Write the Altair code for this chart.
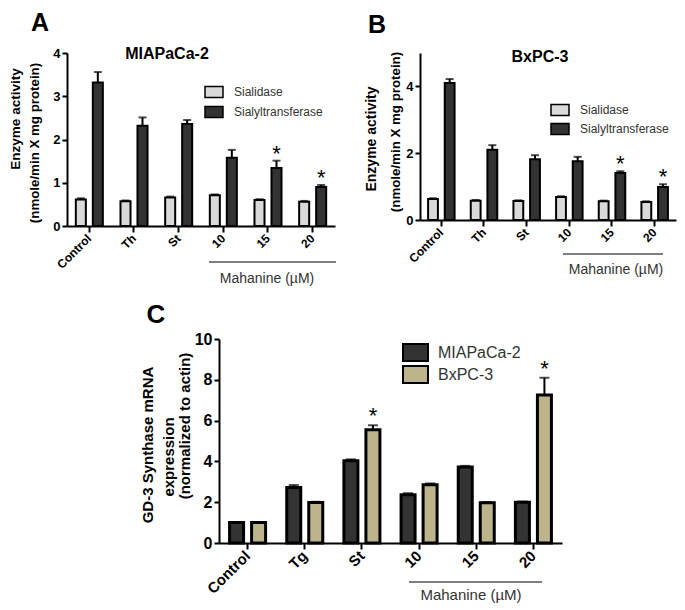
import altair as alt
import pandas as pd

FONT = "Liberation Sans"

# ---------------- data ----------------
cats_ab = ["Control", "Th", "St", "10", "15", "20"]
series_ab = ["Sialidase", "Sialyltransferase"]
colors_ab = ["#d9d9d9", "#333333"]

a_sialidase = [0.61, 0.57, 0.66, 0.71, 0.60, 0.56]
a_sialidase_err = [0.03, 0.02, 0.02, 0.02, 0.02, 0.02]
a_sialyl = [3.32, 2.32, 2.36, 1.58, 1.34, 0.90]
a_sialyl_err = [0.24, 0.19, 0.09, 0.18, 0.17, 0.05]
a_stars = ["", "", "", "", "*", "*"]

b_sialidase = [0.63, 0.58, 0.57, 0.69, 0.56, 0.54]
b_sialidase_err = [0.02, 0.02, 0.02, 0.02, 0.02, 0.02]
b_sialyl = [4.10, 2.10, 1.82, 1.76, 1.41, 0.99]
b_sialyl_err = [0.12, 0.14, 0.12, 0.13, 0.05, 0.08]
b_stars = ["", "", "", "", "*", "*"]

cats_c = ["Control", "Tg", "St", "10", "15", "20"]
series_c = ["MIAPaCa-2", "BxPC-3"]
colors_c = ["#333333", "#bdb48c"]
c_mia = [1.0, 2.72, 4.03, 2.37, 3.72, 2.0]
c_mia_err = [0.02, 0.12, 0.07, 0.07, 0.06, 0.03]
c_bx = [1.0, 1.98, 5.55, 2.85, 1.97, 7.26]
c_bx_err = [0.02, 0.04, 0.22, 0.07, 0.04, 0.84]
c_stars = ["", "", "*", "", "", "*"]


def make_df(cats, series, v1, e1, v2, e2, stars):
    rows = []
    for i, c in enumerate(cats):
        rows.append(dict(cat=c, series=series[0], value=v1[i], top=v1[i] + e1[i], star=""))
        rows.append(dict(cat=c, series=series[1], value=v2[i], top=v2[i] + e2[i], star=stars[i]))
    return pd.DataFrame(rows)


def txt(text, x, y, size, weight="normal", angle=0, color="black"):
    return alt.Chart(pd.DataFrame({"t": [text]})).mark_text(
        fontSize=size, fontWeight=weight, angle=angle, color=color,
        align="center", baseline="middle", font=FONT
    ).encode(text="t:N", x=alt.value(x), y=alt.value(y))


def hline(x1, x2, y):
    return alt.Chart(pd.DataFrame({"a": [0]})).mark_rule(
        color="#555555", strokeWidth=1.5
    ).encode(x=alt.value(x1), x2=alt.value(x2), y=alt.value(y))


def panel(df, cats, series, colors, w, h, ymax, yvals, pi, q, stroke_w, cap,
          tick_fs, xlab_fs, legend, star_dy, extras):
    x = alt.X("cat:N", sort=cats,
              scale=alt.Scale(domain=cats, paddingInner=pi, paddingOuter=pi / 2),
              axis=alt.Axis(title=None, labelAngle=-45, labelAlign="right",
                            labelBaseline="middle", labelFontSize=xlab_fs,
                            labelFontWeight="bold", labelColor="black", labelFont=FONT,
                            tickSize=6, tickWidth=2, tickColor="black",
                            domainColor="black", domainWidth=2, labelPadding=4))
    xo = alt.XOffset("series:N", sort=series,
                     scale=alt.Scale(domain=series, paddingInner=q, paddingOuter=0))
    ysc = alt.Scale(domain=[0, ymax], nice=False)
    yax = alt.Axis(title=None, values=yvals, grid=False, labelFontSize=tick_fs,
                   labelFontWeight="bold", labelColor="black", labelFont=FONT,
                   tickSize=5, tickWidth=2, tickColor="black",
                   domainColor="black", domainWidth=2, labelPadding=2)
    base = alt.Chart(df).encode(x=x, xOffset=xo)
    rules = base.mark_rule(color="black", strokeWidth=2).encode(
        y=alt.Y("value:Q", scale=ysc, axis=yax), y2="top:Q")
    caps = base.mark_tick(color="black", thickness=2, size=cap).encode(
        y=alt.Y("top:Q", scale=ysc))
    bars = base.mark_bar(stroke="black", strokeWidth=stroke_w).encode(
        y=alt.Y("value:Q", scale=ysc, axis=yax),
        color=alt.Color("series:N", sort=series,
                        scale=alt.Scale(domain=series, range=colors),
                        legend=legend))
    stars = base.transform_filter("datum.star == '*'").mark_text(
        fontSize=22, font=FONT, baseline="alphabetic", dy=star_dy, color="black"
    ).encode(y=alt.Y("top:Q", scale=ysc), text="star:N")
    return alt.layer(rules, caps, bars, stars, *extras).properties(width=w, height=h)


df_a = make_df(cats_ab, series_ab, a_sialidase, a_sialidase_err, a_sialyl, a_sialyl_err, a_stars)
df_b = make_df(cats_ab, series_ab, b_sialidase, b_sialidase_err, b_sialyl, b_sialyl_err, b_stars)
df_c = make_df(cats_c, series_c, c_mia, c_mia_err, c_bx, c_bx_err, c_stars)

path_ab = "M-1,-0.6H1V0.6H-1Z"
path_c = "M-1.47,-1H1.47V1H-1.47Z"

leg_a = alt.Legend(orient="none", legendX=137, legendY=29, title=None,
                   symbolType=path_ab, symbolSize=324, symbolStrokeColor="black",
                   symbolStrokeWidth=1.5, labelFontSize=12, labelColor="#333333",
                   labelFont=FONT, labelOffset=10, rowPadding=1)
leg_b = alt.Legend(orient="none", legendX=130, legendY=47, title=None,
                   symbolType=path_ab, symbolSize=324, symbolStrokeColor="black",
                   symbolStrokeWidth=1.5, labelFontSize=12, labelColor="#333333",
                   labelFont=FONT, labelOffset=10, rowPadding=0)
leg_c = alt.Legend(orient="none", legendX=187, legendY=4, title=None,
                   symbolType=path_c, symbolSize=289, symbolStrokeColor="black",
                   symbolStrokeWidth=2, labelFontSize=16, labelColor="#333333",
                   labelFont=FONT, labelOffset=13, rowPadding=-3)

extras_a = [
    txt("A", -27, -30, 25, "bold"),
    txt("MIAPaCa-2", 100, 1, 16, "bold"),
    txt("Enzyme activity", -51, 66, 13.5, "bold", 270),
    txt("(nmole/min X mg protein)", -32, 90, 13.3, "bold", 270),
    hline(142, 269, 209),
    txt("Mahanine (µM)", 200, 226, 14, "normal", 0, "#333333"),
]
extras_b = [
    txt("B", -43, -28, 25, "bold"),
    txt("BxPC-3", 120, 4, 16, "bold"),
    txt("Enzyme activity", -48, 86, 14, "bold", 270),
    txt("(nmole/min X mg protein)", -24, 79, 13.3, "bold", 270),
    hline(143, 243, 201),
    txt("Mahanine (µM)", 196, 217, 14, "normal", 0, "#333333"),
]
extras_c = [
    txt("C", -63, -24, 26, "bold"),
    txt("GD-3 Synthase mRNA", -71, 106, 15, "bold", 270),
    txt("expression", -50, 118, 15, "bold", 270),
    txt("(normalized to actin)", -34, 87, 15, "bold", 270),
    hline(190, 323, 243),
    txt("Mahanine (µM)", 252, 256, 15, "normal", 0, "#333333"),
]

pa = panel(df_a, cats_ab, series_ab, colors_ab, 268, 173, 4, [0, 1, 2, 3, 4],
           0.395, 0.41, 2, 8, 13, 12, leg_a, 0, extras_a)
pb = panel(df_b, cats_ab, series_ab, colors_ab, 256, 167, 5, [0, 1, 2, 3, 4, 5],
           0.379, 0.41, 2, 8, 13, 12, leg_b, 0, extras_b)
pc = panel(df_c, cats_c, series_c, colors_c, 343, 204, 10, [0, 2, 4, 6, 8, 10],
           0.37, 0.364, 3, 10, 16, 15, leg_c, -2, extras_c)

dummy = alt.Chart(pd.DataFrame({"t": [""]})).mark_text().encode(
    text="t:N", x=alt.value(0), y=alt.value(0)).properties(width=142, height=100)

top = alt.hconcat(pa, pb, spacing=85, bounds="flush").resolve_scale(
    x="independent", y="independent", xOffset="independent", color="independent"
).resolve_legend(color="independent")
bottom = alt.hconcat(dummy, pc, spacing=10, bounds="flush").resolve_scale(
    x="independent", y="independent", xOffset="independent", color="independent"
).resolve_legend(color="independent")

chart = alt.vconcat(top, bottom, spacing=14).resolve_scale(
    x="independent", y="independent", xOffset="independent", color="independent"
).resolve_legend(color="independent").properties(
    padding={"left": 0, "top": 2, "right": 0, "bottom": 0}
).configure(font=FONT).configure_view(stroke="transparent")

chart.save("out.html", embed_options={"renderer": "svg", "actions": False})
